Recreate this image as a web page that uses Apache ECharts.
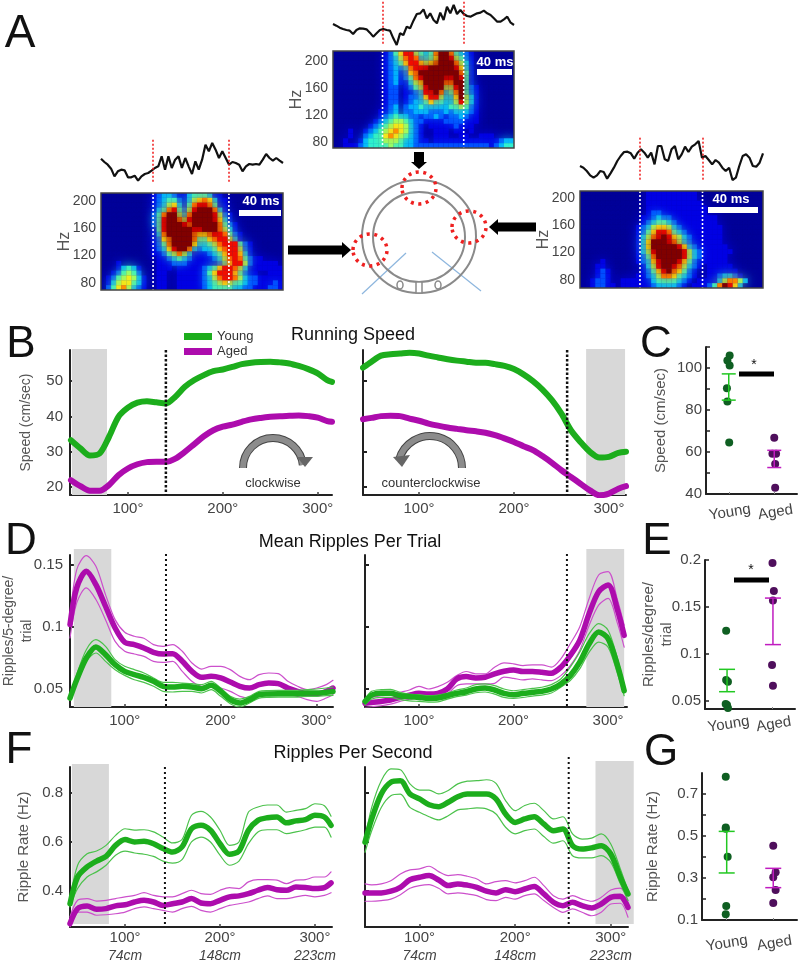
<!DOCTYPE html>
<html><head><meta charset="utf-8">
<style>html,body{margin:0;padding:0;background:#fff}#c{width:800px;height:963px}</style>
<script src="https://cdn.jsdelivr.net/npm/echarts@6/dist/echarts.min.js"></script>
</head><body><div id="c"></div>
<script>
const FONT='"Liberation Sans",Arial,sans-serif';
const MID=[50,60,70,80,90,100,110,120,130,140,150,160,170,180,190,200,210,220,230,240,250,260,270,280,290,300,310];
const degBL=[40,...MID,315], degBR=[41,...MID,318], degDL=[43,...MID,317], degDR=[43,...MID,317], degFL=[42,...MID,317], degFR=[43,...MID,318];

const bLeftYoung=[33.3,31,29,29.5,34.2,39.9,42.5,43.9,44.3,44,43.7,45.6,48.4,50.3,51.7,52.8,53.3,54,54.8,55.2,55.4,55.5,55.3,55,54.3,53.4,52.2,50.3,49.8];
const bLeftAged=[22,20.3,19,19,20.6,23.4,25.3,26.5,27.1,27.2,27.2,28.1,30,32.2,34.4,36.1,37.1,37.7,38.5,39.2,39.6,39.9,40.1,40.2,40.3,40.1,39.7,38.7,38.5];
const bRightYoung=[53.8,55.5,57.2,57.6,57.8,58,57.8,57.2,56.7,56.2,55.8,55.5,55.2,55.2,54.8,54.3,53.4,51.9,50,47.6,44.6,40.8,36.1,32.8,30,28.4,28.6,29.7,30];
const bRightAged=[39.2,39.6,40.1,40.2,40.1,39.4,38.8,38,37.4,36.9,36.5,36.1,35.8,35.4,34.7,33.8,32.8,31.6,30.5,28.8,26.9,24.8,22.9,21,19.1,17.7,18.2,19.6,20.3];

const dLeftYoung=[.0427,.0575,.075,.0839,.0777,.0696,.0642,.0616,.0594,.0562,.0522,.0516,.0522,.0516,.0503,.053,.0481,.0414,.0387,.0414,.0454,.046,.0462,.0462,.0462,.0468,.0468,.0473,.048];
const dLeftYoungHi=[.0427,.0616,.0817,.0898,.0844,.0737,.0683,.0656,.0629,.0589,.0554,.0554,.0548,.0543,.0535,.0562,.0508,.0441,.0419,.0441,.0481,.0487,.0489,.0489,.0489,.0495,.05,.0508,.0516];
const dLeftYoungLo=[.0414,.0548,.0723,.079,.0723,.0656,.061,.0575,.0554,.0522,.0481,.0476,.0481,.0481,.0468,.0495,.0441,.0382,.0355,.0387,.0427,.0433,.0435,.0435,.0435,.0441,.0441,.0446,.0449];
const dLeftAged=[.1019,.1315,.1449,.1341,.1167,.0992,.0877,.0858,.0831,.0796,.0782,.0785,.0723,.0642,.0594,.0602,.0589,.0556,.0522,.0508,.0535,.0548,.0543,.0508,.0481,.046,.046,.0481,.0508];
const dLeftAgedHi=[.1073,.1462,.1575,.1489,.1261,.1059,.0957,.0925,.0909,.0858,.0844,.0858,.0804,.071,.0661,.0683,.0683,.0656,.0602,.0575,.0616,.0629,.0624,.0562,.0522,.0495,.0508,.0535,.057];
const dLeftAgedLo=[.0911,.1194,.1315,.1221,.1059,.0884,.0804,.0782,.0763,.0723,.0715,.0723,.0642,.0562,.0522,.0522,.0508,.0481,.0441,.0427,.0454,.0473,.0468,.0454,.0441,.0414,.0401,.0427,.0454];
const dRightYoung=[.04,.0451,.0465,.0465,.0446,.0438,.0432,.0424,.0427,.0446,.0465,.0478,.05,.0508,.0492,.0465,.0454,.0465,.0473,.0481,.05,.0541,.0608,.0716,.0865,.0959,.0905,.0689,.0486];
const dRightYoungHi=[.0419,.0481,.0495,.0497,.0473,.0459,.0454,.0446,.0451,.0468,.0492,.0508,.0535,.0541,.0527,.05,.0486,.0495,.0505,.0514,.0535,.0581,.0676,.0797,.0946,.1027,.0973,.0743,.0527];
const dRightYoungLo=[.0373,.0419,.0432,.0432,.0414,.0405,.04,.0395,.0397,.0419,.0438,.0451,.047,.0476,.0459,.0432,.0424,.0432,.0443,.0451,.0468,.0514,.0568,.0662,.0797,.0878,.0838,.0622,.0446];
const dRightAged=[.0384,.0392,.04,.0411,.0432,.0451,.0465,.0459,.0465,.05,.0581,.06,.0589,.0595,.0622,.0643,.0654,.0641,.0641,.0635,.0627,.0676,.077,.0892,.1108,.1284,.1338,.1135,.0932];
const dRightAgedHi=[.0419,.0432,.0446,.0454,.0473,.0492,.0522,.05,.0519,.0554,.0608,.0641,.0622,.0622,.0676,.0711,.0703,.0689,.0695,.0695,.0676,.0743,.0865,.1,.123,.1419,.1446,.1216,.1014];
const dRightAgedLo=[.0351,.0357,.0365,.0378,.04,.0419,.0427,.0424,.0432,.0459,.0527,.0541,.0541,.0541,.0546,.0595,.0586,.0573,.0581,.0573,.0568,.0608,.0689,.0811,.1014,.1176,.123,.1027,.0838];

const fLeftYoung=[.348,.457,.498,.522,.541,.586,.61,.6,.603,.593,.573,.559,.58,.654,.668,.648,.593,.55,.563,.648,.688,.699,.702,.678,.686,.691,.709,.702,.668];
const fLeftYoungHi=[.362,.505,.552,.563,.586,.627,.654,.648,.65,.641,.62,.596,.61,.709,.725,.702,.648,.586,.6,.722,.743,.751,.751,.722,.729,.736,.756,.748,.705];
const fLeftYoungLo=[.335,.41,.457,.478,.505,.546,.563,.555,.55,.541,.522,.514,.528,.6,.62,.6,.546,.505,.522,.593,.641,.65,.65,.634,.641,.65,.661,.661,.62];
const fLeftAged=[.267,.328,.339,.325,.328,.339,.344,.355,.362,.355,.341,.348,.355,.369,.351,.348,.362,.376,.38,.389,.403,.414,.405,.403,.416,.414,.41,.414,.433];
const fLeftAgedHi=[.294,.362,.369,.359,.362,.369,.376,.382,.393,.382,.376,.376,.389,.403,.389,.386,.403,.414,.41,.437,.446,.446,.444,.43,.444,.446,.457,.457,.478];
const fLeftAgedLo=[.253,.314,.314,.301,.303,.307,.314,.328,.335,.328,.321,.314,.328,.337,.321,.314,.328,.341,.348,.355,.369,.38,.369,.369,.376,.382,.376,.382,.393];
const fRightYoung=[.599,.694,.796,.844,.85,.796,.776,.752,.744,.762,.785,.796,.796,.796,.776,.714,.68,.694,.703,.673,.646,.653,.585,.571,.576,.585,.551,.456,.388];
const fRightYoungHi=[.612,.741,.85,.898,.895,.837,.812,.812,.796,.81,.837,.848,.85,.854,.839,.769,.728,.749,.758,.728,.694,.703,.633,.612,.616,.633,.592,.49,.401];
const fRightYoungLo=[.558,.646,.741,.789,.795,.741,.721,.703,.69,.707,.731,.735,.739,.735,.714,.66,.633,.646,.653,.622,.595,.605,.544,.535,.535,.544,.517,.429,.361];
const fRightAged=[.392,.392,.392,.399,.415,.446,.456,.463,.445,.422,.429,.424,.415,.399,.392,.405,.397,.408,.418,.388,.354,.34,.354,.34,.331,.347,.374,.378,.333];
const fRightAgedHi=[.429,.425,.429,.442,.469,.486,.49,.501,.479,.463,.467,.46,.449,.429,.438,.442,.433,.442,.456,.422,.381,.367,.381,.367,.358,.374,.404,.412,.361];
const fRightAgedLo=[.358,.358,.361,.367,.385,.411,.422,.426,.411,.388,.392,.388,.381,.365,.361,.374,.367,.381,.388,.361,.333,.313,.327,.313,.299,.313,.347,.35,.293];

const cYoung=[[.52,106],[.47,103.6],[.52,101.2],[.46,90.3],[.47,84],[.51,64.5]];
const cAged=[[1.5,66.8],[1.46,59.2],[1.54,59.2],[1.52,54.3],[1.52,43]];
const cErr=[[.5,84.7,97.2],[1.5,52.6,60.8]];
const eYoung=[[.47,.1248],[.47,.0723],[.51,.0705],[.49,.0457],[.46,.0468],[.51,.0425]];
const eAged=[[1.5,.1968],[1.53,.167],[1.51,.157],[1.49,.0883],[1.51,.0663]];
const eErr=[[.49,.0599,.0837],[1.51,.11,.1595]];
const gYoung=[[.5,.782],[.5,.54],[.5,.534],[.54,.401],[.51,.167],[.5,.127]];
const gAged=[[1.5,.454],[1.55,.327],[1.5,.303],[1.55,.243],[1.5,.181]];
const gErr=[[.52,.324,.522],[1.5,.254,.346]];
const groupLabels=['Young','Aged'];

const traceTop=[78,73,67,63,60,58,48,60,65,64,62,52,40,50,60,63,60,58,35,15,50,45,70,65,88,108,110,122,95,110,90,80,112,90,130,110,135,108,120,108,102,100,105,110,112,118,110,105,95,85,85,92,100,82,75];
const traceLeft=[88,78,70,58,35,50,55,53,32,32,37,22,35,42,45,52,60,65,95,55,95,60,85,95,60,90,65,42,80,55,85,130,110,135,115,90,110,90,70,78,75,70,50,65,72,70,72,70,85,102,90,82,90,82,75];
const traceRight=[60,55,45,32,25,32,45,42,22,38,55,75,90,102,103,98,82,100,110,100,85,100,65,120,120,80,75,110,120,80,95,118,102,118,125,135,85,90,78,65,78,70,55,45,55,18,25,60,90,95,85,60,58,70,98];

const heatTop=[
"000000000012468854347997432100000000",
"000000000012357873346998542100000000",
"000000000012346886567999753100000000",
"000000000012323788899999863100000000",
"000000000012312679999999974100000000",
"000000000012312478999988984100000000",
"000000000012311356999977994100000000",
"000000000012201245899955894210000000",
"000000000012201123889734794210000000",
"000000000012201223688533695310000000",
"000000000012201233464433585310000000",
"000000000012302334333334454210000000",
"000000000112302233322232333210000000",
"000000000123433221223212232110000000",
"000000001234554322111122221110000000",
"000000012345665321011111211100000000",
"000100123456765321001110110100000000",
"000100234467654321001110011001110000",
"001001344455543321101111111111111233",
"001112344445443322222222222222212344"];
const heatLeft=[
"000000000012332113444311000000000000",
"000000000012344213567631100000000000",
"000000000012356314788741100000000000",
"000000000013478425899973100000000000",
"000000000024799537999985210000000000",
"000000000024899758999986310000000000",
"000000000024899987999997421000000000",
"000000000014899999889997531000000000",
"000000000013799999766788742100000000",
"000000000012679999744678853100000000",
"000000000012479999633457888421000000",
"000000000012368997323346788521000000",
"000000000011245753111234688631000000",
"000000000001123432111123578742110000",
"000100000001112221111112468852111110",
"000134310001110111112346887531111111",
"001245420001100111112468886421100111",
"012456531001100111112357887532211111",
"013566431001100111112345654432211121",
"024675321001100111112344443322111221"];
const heatRight=[
"000000000000011111111110000000000000",
"000000000000011111111110000000000000",
"000000000000011111111111000000000000",
"000000000000011111111111100000000000",
"000000000000012211111111100000000000",
"000000000000112322111111111000000000",
"000000000000123443211111111000000000",
"000000000001235665321111111100000000",
"000000000001246887432111111100000000",
"000000000001357898653211111100000000",
"000000000001369998753211111100000000",
"000000000001369999986321111110000000",
"000000000001358999998532111111000000",
"000000000001247999998532111110000000",
"000010000001236899986421111110000000",
"000110000000135899875321011111000000",
"000121000000124689764210011111100000",
"000121000001123577643210011233210000",
"001221001111113444432101111357753000",
"001221101111112333321011124798630000"];
const heatPalette=['#00009c','#0000e4','#0050ff','#00b0ff','#30f0d0','#90ff70','#f0f020','#ff9000','#f01000','#800000'];

const C_Y='#1cad1c',C_Yt='#4cc24c',C_A='#ad0cad',C_At='#cc50cc',C_YD='#0f5f22',C_AD='#4f0f5c',C_YE='#22c822',C_AE='#c01cc0';
const TXT='#444';

const grids=[],xAxes=[],yAxes=[],series=[];
const pts=(xs,ys)=>xs.map((x,i)=>[x,ys[i]]);
function addGrid(l,t,r,b,extra){grids.push(Object.assign({left:l,top:t,width:r-l,height:b-t,outerBoundsMode:'none'},extra||{}));return grids.length-1;}
const aLine={show:true,onZero:false,lineStyle:{color:'#222',width:2}};
function band(g,from,to,yMin,topOff,botOff){
  series.push({type:'custom',xAxisIndex:g.x,yAxisIndex:g.y,z:1,silent:true,data:[[from,to]],clip:false,
    renderItem:(p,api)=>{const a=api.coord([api.value(0),yMin])[0],b=api.coord([api.value(1),yMin])[0],cs=p.coordSys;
      return {type:'rect',shape:{x:a,y:cs.y+topOff,width:b-a,height:cs.height-topOff-botOff},style:{fill:'#d8d8d8'}};}});
}
function dotted(g,at,yMin,topOff,w,dash,stroke){
  series.push({type:'custom',xAxisIndex:g.x,yAxisIndex:g.y,z:6,silent:true,data:[[at]],clip:false,
    renderItem:(p,api)=>{const a=api.coord([api.value(0),yMin])[0],cs=p.coordSys;
      return {type:'line',shape:{x1:a,y1:cs.y+topOff,x2:a,y2:cs.y+cs.height},style:{stroke:stroke||'#111',lineWidth:w,lineDash:dash}};}});
}
function linePanel(o){
  const gi=addGrid(...o.rect);
  const xlab={show:true,customValues:[100,200,300],color:TXT,fontFamily:FONT,fontSize:15,margin:o.xMargin||6,
    formatter:o.cm?(v=>`{a|${v}°}\n{b|${o.cm[[100,200,300].indexOf(v)]}}`):(v=>v+'°')};
  if(o.cm)xlab.rich={a:{fontFamily:FONT,fontSize:15,color:TXT,lineHeight:19},b:{fontFamily:FONT,fontSize:14,fontStyle:'italic',color:TXT,lineHeight:19}};
  const xi=xAxes.push({type:'value',gridIndex:gi,min:o.xMin,max:o.xMax,splitLine:{show:false},axisLine:aLine,
    axisTick:{show:true,inside:true,length:3,customValues:[100,200,300],lineStyle:{color:'#444',width:1.5}},axisLabel:xlab})-1;
  const yi=yAxes.push({type:'value',gridIndex:gi,min:o.yMin,max:o.yMax,splitLine:{show:false},axisLine:aLine,
    axisTick:{show:true,inside:true,length:4,customValues:o.yTicks,lineStyle:{color:'#222',width:2}},
    axisLabel:{show:!!o.yName,customValues:o.yTicks,color:TXT,fontFamily:FONT,fontSize:15,margin:7,formatter:v=>String(v)},
    name:o.yName||'',nameLocation:'middle',nameGap:o.nameGap,nameMoveOverlap:false,nameTextStyle:{color:'#555',fontFamily:FONT,fontSize:o.nameSize||14,lineHeight:18}})-1;
  const g={x:xi,y:yi};
  band(g,o.band[0],o.band[1],o.yMin,o.band[2],o.band[3]);
  o.rows.forEach(r=>{
    series.push({type:'line',xAxisIndex:xi,yAxisIndex:yi,data:pts(o.deg,r[0]),symbol:'none',smooth:.3,z:r[3]||3,silent:true,
      lineStyle:{color:r[1],width:r[2],cap:'round',join:'round'},clip:true});
  });
  dotted(g,o.dot[0],o.yMin,o.dot[1],o.dot[2],o.dot[3]);
}
function errPanel(o){
  const gi=addGrid(...o.rect);
  const xi=xAxes.push({type:'value',gridIndex:gi,min:0,max:2,splitLine:{show:false},axisLine:aLine,
    axisTick:{show:true,inside:true,length:2,customValues:[.5,1.5],lineStyle:{color:'#888',width:1}},
    axisLabel:{show:true,customValues:[.5,1.5],formatter:v=>groupLabels[v<1?0:1],rotate:9,align:'center',verticalAlign:'top',margin:o.xMargin,color:TXT,fontFamily:FONT,fontSize:15}})-1;
  const yi=yAxes.push({type:'value',gridIndex:gi,min:o.yMin,max:o.yMax,splitLine:{show:false},axisLine:aLine,
    axisTick:{show:true,inside:true,length:4,customValues:o.yTicks,lineStyle:{color:'#222',width:1.5}},
    axisLabel:{show:true,customValues:o.yLabels,color:TXT,fontFamily:FONT,fontSize:15,margin:4,formatter:v=>String(v)},
    name:o.yName,nameLocation:'middle',nameGap:o.nameGap,nameMoveOverlap:false,nameTextStyle:{color:'#555',fontFamily:FONT,fontSize:15,lineHeight:18}})-1;
  series.push({type:'custom',xAxisIndex:xi,yAxisIndex:yi,z:5,silent:true,data:o.err,clip:false,
    renderItem:(p,api)=>{const x=api.value(0),lo=api.coord([x,api.value(1)]),hi=api.coord([x,api.value(2)]),col=p.dataIndex?C_AE:C_YE,st={stroke:col,lineWidth:1.5},hw=o.cap;
      return {type:'group',children:[{type:'line',shape:{x1:lo[0],y1:lo[1],x2:hi[0],y2:hi[1]},style:st},
        {type:'line',shape:{x1:lo[0]-hw,y1:lo[1],x2:lo[0]+hw,y2:lo[1]},style:st},{type:'line',shape:{x1:hi[0]-hw,y1:hi[1],x2:hi[0]+hw,y2:hi[1]},style:st}]};}});
  series.push({type:'scatter',xAxisIndex:xi,yAxisIndex:yi,data:o.young,symbolSize:8,itemStyle:{color:C_YD,opacity:1},z:4,silent:true,clip:false});
  series.push({type:'scatter',xAxisIndex:xi,yAxisIndex:yi,data:o.aged,symbolSize:8,itemStyle:{color:C_AD,opacity:1},z:4,silent:true,clip:false});
}
function heatPanel(rows,rect,yMin,yMax,dashes,gap){
  const gi=addGrid(rect[0],rect[1],rect[2],rect[3],{show:true,backgroundColor:heatPalette[0],borderWidth:0,z:1});
  const nc=rows[0].length,nr=rows.length;
  const xi=xAxes.push({type:'value',gridIndex:gi,min:0,max:nc,show:false})-1;
  const xd=xAxes.push({type:'value',gridIndex:gi,min:0,max:nc,show:false})-1;
  const yc=yAxes.push({type:'value',gridIndex:gi,min:0,max:nr,inverse:true,show:false,position:'right'})-1;
  const yv=yAxes.push({type:'value',gridIndex:gi,min:yMin,max:yMax,position:'left',splitLine:{show:false},axisLine:{show:false},axisTick:{show:false},
    axisLabel:{customValues:[80,120,160,200],color:TXT,fontFamily:FONT,fontSize:14,margin:5,formatter:v=>String(v)},
    name:'Hz',nameLocation:'middle',nameGap:gap,nameMoveOverlap:false,nameTextStyle:{color:'#555',fontFamily:FONT,fontSize:16}})-1;
  const data=[];rows.forEach((s,r)=>{for(let c=0;c<s.length;c++)data.push([c,r,+s[c]]);});
  data.sort((a,b)=>a[2]-b[2]);
  series.push({type:'custom',xAxisIndex:xi,yAxisIndex:yc,data,silent:true,z:2,clip:true,progressive:0,
    encode:{x:0,y:1},
    renderItem:(p,api)=>{const a=api.coord([api.value(0),api.value(1)]),b=api.coord([api.value(0)+1,api.value(1)+1]),col=heatPalette[api.value(2)];
      return {type:'rect',shape:{x:a[0],y:a[1],width:b[0]-a[0],height:b[1]-a[1]},style:{fill:col,shadowBlur:11,shadowColor:col}};}});
  dashes.forEach(c=>dotted({x:xd,y:yv},c,yMin,0,1.6,[2,2],'#fff'));
  series.push({type:'custom',xAxisIndex:xd,yAxisIndex:yv,data:[[0]],silent:true,z:7,clip:false,
    renderItem:(p)=>{const cs=p.coordSys;return {type:'rect',shape:{x:cs.x,y:cs.y,width:cs.width,height:cs.height},style:{fill:null,stroke:'#444',lineWidth:1.5}};}});
}
function tracePanel(vals,rect,marks){
  const gi=addGrid(...rect);
  const xi=xAxes.push({type:'value',gridIndex:gi,min:0,max:vals.length-1,show:false})-1;
  const yi=yAxes.push({type:'value',gridIndex:gi,min:0,max:150,show:false})-1;
  series.push({type:'line',xAxisIndex:xi,yAxisIndex:yi,data:vals.map((v,i)=>[i,v]),symbol:'none',silent:true,z:3,
    lineStyle:{color:'#111',width:2.2},
    markLine:{silent:true,symbol:'none',label:{show:false},animation:false,lineStyle:{color:'#f01818',type:[2,2],width:1.5},
      data:marks.map(m=>[{coord:[m,145]},{coord:[m,15]}])}});
}

// Panel A
tracePanel(traceTop,[333,0,514,50],[14.8,39.1]);
tracePanel(traceLeft,[101,138,283,188],[15.4,38]);
tracePanel(traceRight,[580,136,763,186],[17.7,36.1]);
heatPanel(heatTop,[333,51,514,148],70.7,214.4,[9.85,26],28);
heatPanel(heatLeft,[101,193,283,290],69.6,211.8,[10.3,25.3],28);
heatPanel(heatRight,[580,191,763,288],68.1,210.4,[11.8,24.1],28);

const yB=[20,30,40,50], yD=[.05,.1,.15], yF=[.4,.6,.8];
// Panel B
linePanel({rect:[70,350,332,495],deg:degBL,xMin:39,xMax:315,yMin:17.8,yMax:58.8,yTicks:yB,yName:'Speed (cm/sec)',nameGap:35,
  band:[41,78,-1,0],dot:[140,0,2.5,[2.5,2]],rows:[[bLeftYoung,C_Y,6],[bLeftAged,C_A,6]]});
linePanel({rect:[363,350,626,495],deg:degBR,xMin:41,xMax:318,yMin:17.8,yMax:58.8,yTicks:yB,
  band:[276,317,-1,0],dot:[256,0,2.5,[2.5,2]],rows:[[bRightYoung,C_Y,6],[bRightAged,C_A,6]]});
// Panel D
function rowsOf(a,aH,aL,y,yH,yL,w){return [[aH,C_At,1.2],[aL,C_At,1.2],[a,C_A,w],[yH,C_Yt,1.2,4],[yL,C_Yt,1.2,4],[y,C_Y,w,4]];}
linePanel({rect:[70,555,333,707],deg:degDL,xMin:43,xMax:317,yMin:.0355,yMax:.158,yTicks:yD,yName:'Ripples/5-degree/\ntrial',nameGap:34,nameSize:14,
  band:[47,86,-6,0],dot:[143,-1,2,[2,3]],rows:rowsOf(dLeftAged,dLeftAgedHi,dLeftAgedLo,dLeftYoung,dLeftYoungHi,dLeftYoungLo,5.5)});
linePanel({rect:[365,555,627,707],deg:degDR,xMin:43,xMax:320,yMin:.0355,yMax:.158,yTicks:yD,
  band:[277,317,-6,0],dot:[256.5,-1,2,[2,3]],rows:rowsOf(dRightAged,dRightAgedHi,dRightAgedLo,dRightYoung,dRightYoungHi,dRightYoungLo,5.5)});
// Panel F
const cmLabels=['74cm','148cm','223cm'];
linePanel({rect:[70,767,332,927],deg:degFL,xMin:42,xMax:318,yMin:.253,yMax:.906,yTicks:yF,yName:'Ripple Rate (Hz)',nameGap:37,nameSize:15,cm:cmLabels,xMargin:1,
  band:[44,83,-3,3],dot:[142,0,2,[2,3]],rows:rowsOf(fLeftAged,fLeftAgedHi,fLeftAgedLo,fLeftYoung,fLeftYoungHi,fLeftYoungLo,5.5)});
linePanel({rect:[365,767,628,927],deg:degFR,xMin:43,xMax:318,yMin:.253,yMax:.906,yTicks:yF,cm:cmLabels,xMargin:1,
  band:[284,324,-6,3],dot:[256,-10,2,[2,3]],rows:rowsOf(fRightAged,fRightAgedHi,fRightAgedLo,fRightYoung,fRightYoungHi,fRightYoungLo,5.5)});
// Panels C, E, G
errPanel({rect:[706,347,797,494],yMin:40,yMax:110,yTicks:[40,50,60,70,80,90,100,110],yLabels:[40,60,80,100],yName:'Speed (cm/sec)',nameGap:36,xMargin:11,
  young:cYoung,aged:cAged,err:cErr,cap:7});
errPanel({rect:[705,560,795,709],yMin:.0415,yMax:.2,yTicks:[.05,.1,.15,.2],yLabels:[.05,.1,.15,.2],yName:'Ripples/degree/\ntrial',nameGap:29,xMargin:8,
  young:eYoung,aged:eAged,err:eErr,cap:8});
errPanel({rect:[702,773,797,920],yMin:.1,yMax:.8,yTicks:[.1,.2,.3,.4,.5,.6,.7],yLabels:[.1,.3,.5,.7],yName:'Ripple Rate (Hz)',nameGap:40,xMargin:16,
  young:gYoung,aged:gAged,err:gErr,cap:8});

// Annotation graphics
const T=(text,x,y,size,extra)=>Object.assign({type:'text',silent:true,z:20,style:{text,x,y,fill:(extra&&extra.fill)||'#111',font:`${(extra&&extra.weight)||'normal'} ${size}px ${FONT}`,textAlign:(extra&&extra.align)||'center',textVerticalAlign:'middle'}},{});
const R=(x,y,w,h,fill)=>({type:'rect',silent:true,z:20,shape:{x,y,width:w,height:h},style:{fill}});
const P=(points,fill)=>({type:'polygon',silent:true,z:20,shape:{points},style:{fill}});
const E=(cx,cy,rx,ry,stroke,lw,dash)=>({type:'ellipse',silent:true,z:dash?21:19,shape:{cx,cy,rx,ry},style:{fill:null,stroke,lineWidth:lw,lineDash:dash||null}});
const L=(x1,y1,x2,y2,stroke,lw)=>({type:'line',silent:true,z:18,shape:{x1,y1,x2,y2},style:{stroke,lineWidth:lw}});
const A=(cx,cy,r,s,e,stroke,lw)=>({type:'arc',silent:true,z:20,shape:{cx,cy,r,startAngle:s,endAngle:e,clockwise:true},style:{fill:null,stroke,lineWidth:lw}});
const graphics=[
 T('A',20,34,46),T('B',21,345,44),T('C',656,345,44),T('D',21,542,44),T('E',657,542,44),T('F',19,751,44),T('G',661,753,44),
 T('40 ms',495,62,13,{fill:'#fff',weight:'bold'}),R(477,69,35,6,'#fff'),
 T('40 ms',261,201,13,{fill:'#fff',weight:'bold'}),R(239,210,42,6,'#fff'),
 T('40 ms',731,199,13,{fill:'#fff',weight:'bold'}),R(708,207,50,6,'#fff'),
 E(419,236.5,57,56.5,'#8a8a8a',2),E(419,237,46,45,'#8a8a8a',2),
 L(406,253,362,294,'#8db6de',1.2),L(432,252,481,291,'#8db6de',1.2),
 E(400,285,3,4,'#8a8a8a',1.5),E(438,285,3,4,'#8a8a8a',1.5),{type:'rect',silent:true,z:19,shape:{x:416,y:282,width:6,height:11},style:{fill:'#fff',stroke:'#8a8a8a',lineWidth:1.5}},
 E(419,188,17,16,'#ee2020',3.5,[3,4.5]),E(370,250,17,16,'#ee2020',3.5,[3,4.5]),E(469,227,17,16,'#ee2020',3.5,[3,4.5]),
 P([[414,152],[424,152],[424,162],[427,162],[419,169],[411,162],[414,162]],'#000'),
 P([[288,245.5],[342,245.5],[342,242],[351,250],[342,258],[342,254.5],[288,254.5]],'#000'),
 P([[536,222.5],[498,222.5],[498,219],[489,227],[498,235],[498,231.5],[536,231.5]],'#000'),
 R(184,333,28,7,C_Y),T('Young',217,336,13,{align:'left',fill:'#333'}),R(184,348,28,7,C_A),T('Aged',217,351,13,{align:'left',fill:'#333'}),
 A(273,468,30,Math.PI,2*Math.PI-.1,'#444',8),A(273,468,30,Math.PI,2*Math.PI-.1,'#8c8c8c',6),P([[297,457],[313,457],[305,467]],'#666'),
 A(430,468,32,Math.PI+.25,2*Math.PI,'#444',8),A(430,468,32,Math.PI+.25,2*Math.PI,'#8c8c8c',6),P([[393,457],[410,455],[402,467]],'#666'),
 T('clockwise',273,483,13,{fill:'#333'}),T('counterclockwise',431,483,13,{fill:'#333'}),
 R(739,371.5,35,5,'#000'),T('*',754,365,14),R(734,577.5,35,5,'#000'),T('*',751,570,14)
];
const titles=[['Running Speed',353,326],['Mean Ripples Per Trial',350,533],['Ripples Per Second',353,744]].map(t=>({text:t[0],left:t[1],top:t[2],textAlign:'center',padding:0,textStyle:{fontFamily:FONT,fontWeight:'normal',fontSize:18,color:'#111'}}));

const chart=echarts.init(document.getElementById('c'),null,{renderer:'canvas'});
chart.setOption({animation:false,backgroundColor:'#fff',title:titles,grid:grids,xAxis:xAxes,yAxis:yAxes,series,
  graphic:{elements:graphics}});
</script></body></html>
